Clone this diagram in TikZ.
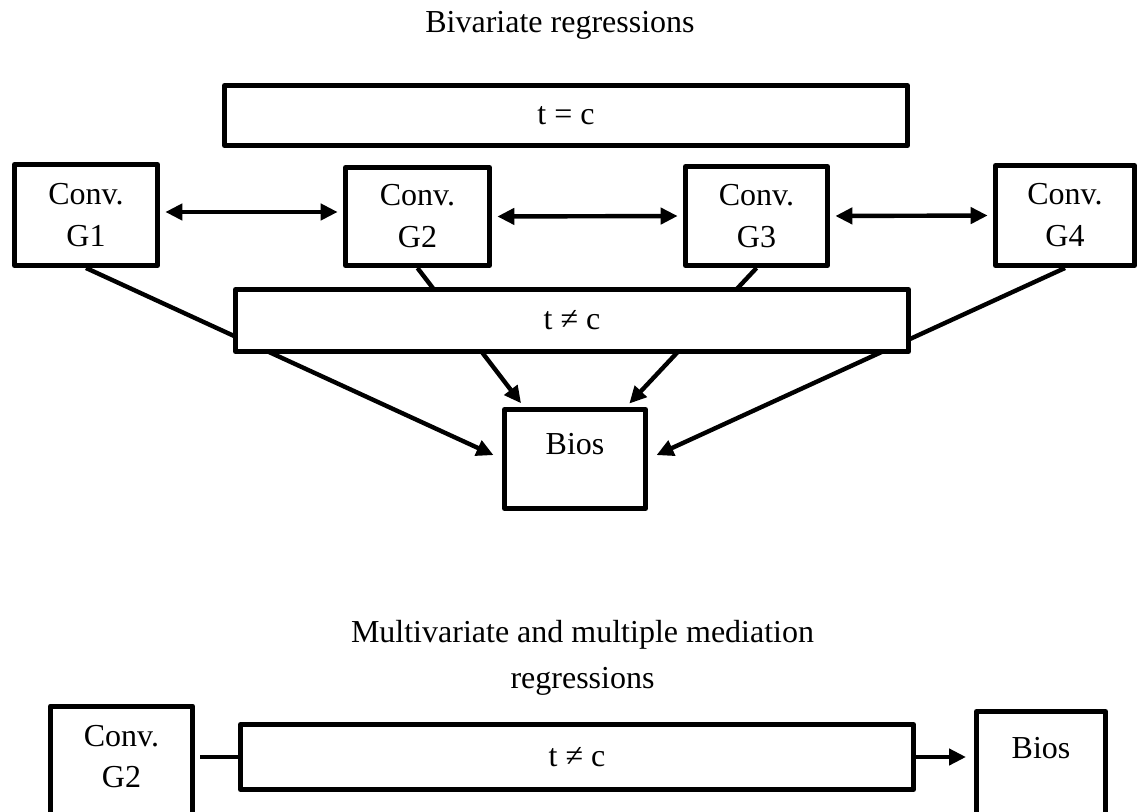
\documentclass[tikz,border=0pt]{standalone}
\usepackage{fontspec}
\setmainfont{Liberation Serif}
\usetikzlibrary{arrows.meta,calc}
\begin{document}
\begin{tikzpicture}[x=0.75pt,y=-0.75pt,
  box/.style={draw, line width=3.75pt, fill=white, inner sep=0pt, line join=round,
    font=\fontsize{24}{31.5}\selectfont, align=center},
  lbl/.style={font=\fontsize{24}{31.5}\selectfont, inner sep=0pt},
  link/.style={line width=3.3pt},
  arr/.style={link, -{Triangle[length=12.75pt,width=12pt]}},
  darr/.style={link, {Triangle[length=12.75pt,width=12pt]}-{Triangle[length=12.75pt,width=12pt]},
    shorten <=4pt, shorten >=4pt},
]
\useasboundingbox (0,0) rectangle (1137,812);
\clip (0,0) rectangle (1137,812);

% ---------- Bivariate regressions ----------
\node[lbl, anchor=base] (title1) at (560,33) {Bivariate regressions};

\node[box, minimum width=512.25pt, minimum height=45pt] (teq) at (566,115.5) {t = c};

\node[box, minimum width=107.25pt, minimum height=75.75pt] (G1) at (86,215)    {Conv.\\G1};
\node[box, minimum width=108pt,    minimum height=73.5pt]  (G2) at (417.5,216.5) {Conv.\\G2};
\node[box, minimum width=106.5pt,  minimum height=74.25pt] (G3) at (756.5,216) {Conv.\\G3};
\node[box, minimum width=104.25pt, minimum height=75pt]    (G4) at (1065,215.5) {Conv.\\G4};

\draw[darr] ($(G1.east)+(0,-3)$) -- ($(G2.west)+(0,-4.5)$);
\draw[darr] (G2.east) -- (G3.west);
\draw[darr] (G3.east) -- (G4.west);

\node[box, minimum width=105.75pt, minimum height=74.25pt] (Bios) at (575,459) {};
\node[lbl, anchor=base] (biosTxt) at ($(Bios.north)+(0,47)$) {Bios};

% paths to Bios run behind the t != c bar
\draw[arr, shorten >=7pt] (G1.south) -- (Bios.west);
\draw[arr, shorten >=3.5pt] (G2.south) -- ($(Bios.north west)!0.15!(Bios.north east)$);
\draw[arr, shorten >=3.5pt] (G3.south) -- ($(Bios.north west)!0.85!(Bios.north east)$);
\draw[arr, shorten >=7pt] (G4.south) -- (Bios.east);

\node[box, minimum width=504.75pt, minimum height=46.5pt] (tneq) at (572,320.5) {t ≠ c};

% ---------- Multivariate and multiple mediation regressions ----------
\node[lbl, anchor=base] (title2a) at (582.5,642) {Multivariate and multiple mediation};
\node[lbl, anchor=base] (title2b) at (582.5,688) {regressions};

\node[box, minimum width=106.5pt, minimum height=143.25pt] (G2b) at (121.5,801.5) {};
\node[lbl, anchor=base] (convB) at ($(G2b.north)+(0,43)$) {Conv.};
\node[lbl, anchor=base] (g2B) at ($(G2b.north)+(0,84)$) {G2};

\node[box, minimum width=504.75pt, minimum height=48.75pt] (tneqB) at (577,757) {t ≠ c};

\node[box, minimum width=96.75pt, minimum height=139.5pt] (BiosB) at (1041,804.5) {};
\node[lbl, anchor=base] (biosBTxt) at ($(BiosB.north)+(0,49)$) {Bios};

\draw[link, shorten <=3.75pt] (G2b.east |- tneqB.west) -- (tneqB.west);
\draw[arr, shorten >=6pt] (tneqB.east) -- (BiosB.west |- tneqB.east);
\end{tikzpicture}
\end{document}
